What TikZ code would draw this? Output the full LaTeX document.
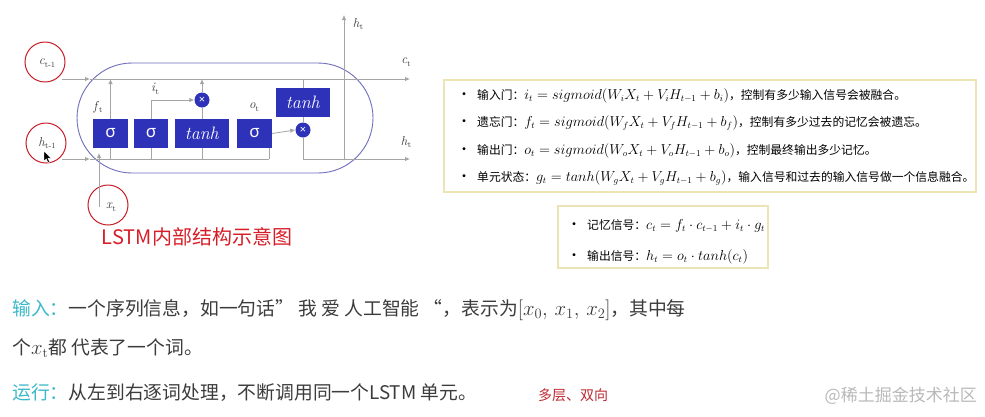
\documentclass[tikz,border=0pt]{standalone}
\usepackage{fontspec}
\newfontfamily\cjk{Noto Sans CJK SC}
\newfontfamily\gsans{Noto Sans}
\usetikzlibrary{arrows.meta}
\definecolor{gblue}{RGB}{45,50,185}
\definecolor{sborder}{RGB}{110,110,190}
\definecolor{lgray}{RGB}{165,165,165}
\definecolor{rcirc}{RGB}{200,30,40}
\definecolor{rhand}{RGB}{215,30,40}
\definecolor{cyanc}{RGB}{60,185,200}
\definecolor{tgray}{RGB}{60,60,60}
\definecolor{pborder}{RGB}{236,228,180}
\definecolor{mred}{RGB}{190,40,50}
\definecolor{wmark}{RGB}{185,185,185}
\newcommand\myfs[1]{\fontsize{#1}{#1}\selectfont}
\newcommand\lab[2]{\textit{#1}\raisebox{-2.5pt}{\myfs{8}#2}}
\newcommand\pc[1]{{\cjk\myfs{11.8}#1}}
\newcommand\pbul{{\cjk\myfs{14}•}\hspace{6pt}}
\tikzset{
  ln/.style={draw=lgray, line width=0.8pt},
  ar/.style={ln, -{Latex[length=5pt,width=4.5pt]}},
  gatebox/.style={fill=gblue, text=white, minimum height=29pt, inner sep=0pt},
  multnode/.style={circle, fill=gblue, text=white, minimum size=15pt, inner sep=0pt, font=\gsans\bfseries\myfs{11}},
  redcirc/.style={circle, draw=rcirc, line width=1pt, minimum size=40pt, inner sep=0pt},
  lbl/.style={text=tgray, inner sep=0pt, font=\myfs{13}},
  panel/.style={draw=pborder, line width=1.2pt, fill=white},
  ptext/.style={anchor=west, inner sep=0pt, text=black, font=\myfs{13.4}},
  btext/.style={anchor=west, inner sep=0pt, text=tgray, font=\cjk\myfs{18.8}},
}
\begin{document}
\begin{tikzpicture}[x=1pt,y=-1pt]
\useasboundingbox[fill=white] (0,0) rectangle (985,416);

% cell outline
\node[draw=sborder, line width=0.9pt, rounded corners=55pt, minimum width=296pt, minimum height=110pt, inner sep=0pt] (cell) at (225,118) {};

% annotation circles and input labels
\node[redcirc] (rc1) at (45,62) {};
\node[redcirc] (rc2) at (46,143) {};
\node[redcirc] (rc3) at (108,205) {};
\node[lbl] (ctm) at (47,63) {\lab{c}{t-1}};
\node[lbl] (htm) at (47,143) {\lab{h}{t-1}};
\node[lbl] (xt) at (111,207) {\lab{x}{t}};

% cursor
\filldraw[fill=black, draw=white, line width=0.4pt] (44,151) -- (44,161) -- (46.3,158.8) -- (48,162.8) -- (49.6,162) -- (48,158.3) -- (51,158.3) -- cycle;

% gates
\node[gatebox, minimum width=35pt, font=\gsans\myfs{17}] (g1) at (110.5,133.5) {σ};
\node[gatebox, minimum width=34pt, font=\gsans\myfs{17}] (g2) at (151,133.5) {σ};
\node[gatebox, minimum width=54pt, font=\myfs{18}] (g3) at (202,133.5) {\textit{tanh}};
\node[gatebox, minimum width=35pt, font=\gsans\myfs{17}] (g4) at (254.5,133.5) {σ};
\node[gatebox, minimum width=54pt, font=\myfs{18}] (t2) at (303,102.5) {\textit{tanh}};
\node[multnode] (m1) at (202,100) {×};
\node[multnode] (m2) at (303,130) {×};

% gate labels
\node[lbl] (flab) at (98,107) {\lab{f}{t}};
\node[lbl] (ilab) at (155,89) {\lab{i}{t}};
\node[lbl] (olab) at (254,107) {\lab{o}{t}};
\node[lbl] (htop) at (358,24) {\lab{h}{t}};
\node[lbl] (ctlab) at (406,62) {\lab{c}{t}};
\node[lbl] (htlab) at (406,142) {\lab{h}{t}};

% coordinates
\coordinate (cin) at (62,79);
\coordinate (cA) at (90,79);
\coordinate (cout) at (410,79);
\coordinate (hin) at (62,159);
\coordinate (hA) at (90,159);
\coordinate (hE) at (269,159);
\coordinate (hout) at (410,159);
\coordinate (hup0) at (344,159);
\coordinate (hup1) at (344,15);
\coordinate (xs) at (99,207);
\coordinate (xe) at (99,153);
\coordinate (g4b) at ([xshift=-3pt]g4.south east);

% main lines
\draw[ar] (cin) -- (cA);
\draw[ar] (cA) -- (cout);
\draw[ar] (hin) -- (hA);
\draw[ln] (hA) -- (hE);
\draw[ar] (xs) -- (xe);
\draw[ar] (hup0) -- (hup1);

% gate connections
\draw[ar] (g1.north) -- (g1.north |- cA);
\draw[ln] (g1.south) -- (g1.south |- hA);
\draw[ln] (g2.south) -- (g2.south |- hA);
\draw[ar] (g2.north) |- (m1.west);
\draw[ln] (g3.south) -- (g3.south |- hA);
\draw[ln] (g3.north) -- (m1.south);
\draw[ar] (m1.north) -- (m1.north |- cA);
\draw[ln] (g4b) -- (g4b |- hA);
\draw[ar] (g4.east) -- (m2.west);
\draw[ln] (t2.north |- cA) -- (t2.north);
\draw[ln] (t2.south) -- (m2.north);
\draw[ar] (m2.south) |- (hout);

% caption
\node[text=rhand, inner sep=0pt, font=\cjk\myfs{20}] (cap) at (197,237) {LSTM内部结构示意图};

% formula panel 1
\node[panel, minimum width=532pt, minimum height=112pt] (p1) at (710,136) {};
\node[ptext] (l1) at (457,96) {\pbul\pc{输入门：}$i_t = sigmoid(W_i X_t + V_i H_{t-1} + b_i)$\pc{，控制有多少输入信号会被融合。}};
\node[ptext] (l2) at (457,123) {\pbul\pc{遗忘门：}$f_t = sigmoid(W_f X_t + V_f H_{t-1} + b_f)$\pc{，控制有多少过去的记忆会被遗忘。}};
\node[ptext] (l3) at (457,151) {\pbul\pc{输出门：}$o_t = sigmoid(W_o X_t + V_o H_{t-1} + b_o)$\pc{，控制最终输出多少记忆。}};
\node[ptext] (l4) at (457,178) {\pbul\pc{单元状态：}$g_t = tanh(W_g X_t + V_g H_{t-1} + b_g)$\pc{，输入信号和过去的输入信号做一个信息融合。}};

% formula panel 2
\node[panel, minimum width=210pt, minimum height=62pt] (p2) at (663,237) {};
\node[ptext] (l5) at (567,226) {\pbul\pc{记忆信号：}$c_t = f_t \cdot c_{t-1} + i_t \cdot g_t$};
\node[ptext] (l6) at (567,257) {\pbul\pc{输出信号：}$h_t = o_t \cdot tanh(c_t)$};

% bottom text
\node[btext] (b1) at (12,310) {{\color{cyanc}输入：}一个序列信息，如一句话” 我 爱 人工智能 “，表示为{\myfs{19.5}$[x_0,\, x_1,\, x_2]$}，其中每};
\node[btext] (b2) at (12,348) {个{\myfs{19.5}$x_{\mathrm{t}}$}都 代表了一个词。};
\node[btext] (b3) at (12,393) {{\color{cyanc}运行：}从左到右逐词处理，不断调用同一个LSTM 单元。};
\node[anchor=west, inner sep=0pt, text=mred, font=\cjk\myfs{14}] (b4) at (538,395) {多层、双向};
\node[anchor=east, inner sep=0pt, text=wmark, font=\cjk\myfs{17}] (wm) at (977,396) {@稀土掘金技术社区};
\end{tikzpicture}
\end{document}
